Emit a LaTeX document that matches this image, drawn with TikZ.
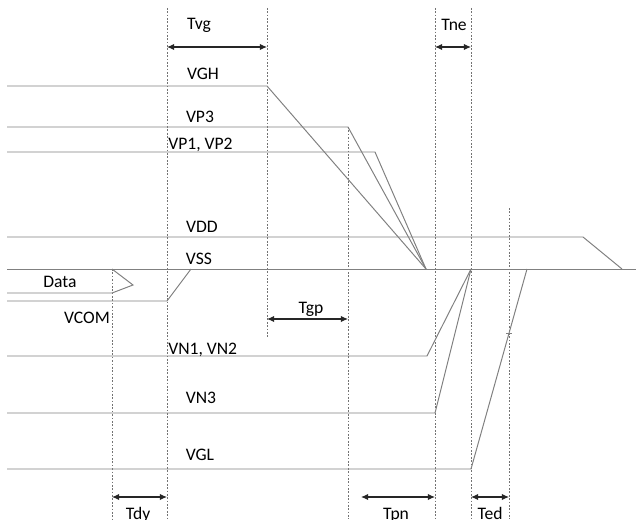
\documentclass[tikz,border=0pt]{standalone}
\usepackage{fontspec}
\setmainfont{Carlito}
\usetikzlibrary{arrows.meta}

\begin{document}
\begin{tikzpicture}[x=0.025cm,y=-0.025cm,
    sig/.style={draw=black!50,line width=0.7pt},
    guide/.style={draw=black!55,line width=0.5pt,dash pattern=on 1.2pt off 1.2pt},
    span/.style={draw=black!85,line width=0.8pt,{Latex[length=5pt,width=4.5pt]}-{Latex[length=5pt,width=4.5pt]}},
    lbl/.style={anchor=base,inner sep=0pt,font=\fontsize{12.5}{14}\selectfont}]
    \useasboundingbox (0,0) rectangle (636,519);

    % vertical guides
    \foreach \x/\ya/\yb in {112/269/519, 167/8/519, 267/8/338, 348/127/519,
                            435/8/519, 471/8/519, 509/208/519}
        \draw[guide] (\x,\ya) -- (\x,\yb);

    % meeting points
    \coordinate (hi) at (426,269);
    \coordinate (lo) at (471,269);

    % signals
    \draw[sig] (7,86) -- (267,86) -- (hi);      % VGH
    \draw[sig] (7,127) -- (348,127) -- (hi);    % VP3
    \draw[sig] (7,152) -- (375,152) -- (hi);    % VP1, VP2
    \draw[sig] (7,237) -- (583,237) -- (622,269); % VDD
    \draw[sig] (7,269) -- (636,269);            % VSS
    \draw[sig] (7,293) -- (112,293) -- (133,285) -- (112,269); % Data
    \draw[sig] (7,301) -- (167,301) -- (191,269); % VCOM
    \draw[sig] (7,356) -- (427,356) -- (lo);    % VN1, VN2
    \draw[sig] (7,413) -- (435,413) -- (lo);    % VN3
    \draw[sig] (7,469) -- (471,469) -- (527,269); % VGL
    \draw[sig] (506,333) -- (512,333);

    % spans
    \coordinate (tvgA) at (167,47);  \coordinate (tvgB) at (267,47);
    \coordinate (tneA) at (435,47);  \coordinate (tneB) at (471,47);
    \coordinate (tgpA) at (267,319); \coordinate (tgpB) at (348,319);
    \coordinate (tdyA) at (112,497); \coordinate (tdyB) at (167,497);
    \coordinate (tpnA) at (361,497); \coordinate (tpnB) at (435,497);
    \coordinate (tedA) at (471,497); \coordinate (tedB) at (509,497);
    \draw[span] (tvgA) -- (tvgB);
    \draw[span] (tneA) -- (tneB);
    \draw[span] (tgpA) -- (tgpB);
    \draw[span] (tdyA) -- (tdyB);
    \draw[span] (tpnA) -- (tpnB);
    \draw[span] (tedA) -- (tedB);

    % labels
    \node[lbl] (tvg) at (199,30) {Tvg};
    \node[lbl] (tne) at (454,31) {Tne};
    \node[lbl] (vgh) at (203,79) {VGH};
    \node[lbl] (vp3) at (200,122) {VP3};
    \node[lbl,anchor=base west] (vp12) at (168,149) {VP1, VP2};
    \node[lbl] (vdd) at (202,232) {VDD};
    \node[lbl] (vss) at (199,264) {VSS};
    \node[lbl] (data) at (60,287) {Data};
    \node[lbl] (vcom) at (87,323) {VCOM};
    \node[lbl] (tgp) at (311,313) {Tgp};
    \node[lbl,anchor=base west] (vn12) at (168,354) {VN1, VN2};
    \node[lbl] (vn3) at (201,403) {VN3};
    \node[lbl] (vgl) at (200,460) {VGL};
    \node[lbl] (tdy) at (138,519) {Tdy};
    \node[lbl] (tpn) at (396,519) {Tpn};
    \node[lbl] (ted) at (490,519) {Ted};
\end{tikzpicture}
\end{document}
